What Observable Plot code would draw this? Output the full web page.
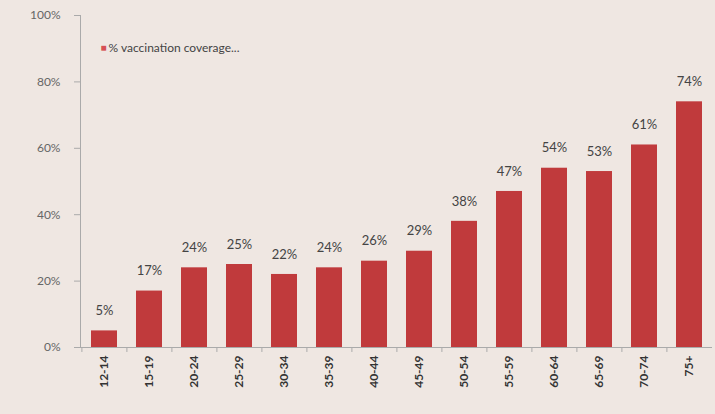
<!DOCTYPE html>
<html>
<head>
<meta charset="utf-8">
<script src="https://cdn.jsdelivr.net/npm/d3@7"></script>
<script src="https://cdn.jsdelivr.net/npm/@observablehq/plot@0.6"></script>
<style>
  html, body { margin: 0; padding: 0; background: #efe7e2; }
  #chart { width: 715px; height: 414px; overflow: hidden; }
</style>
</head>
<body>
<div id="chart"></div>
<script>
const ageGroups = ["12-14","15-19","20-24","25-29","30-34","35-39","40-44","45-49","50-54","55-59","60-64","65-69","70-74","75+"];
const coverage = [5, 17, 24, 25, 22, 24, 26, 29, 38, 47, 54, 53, 61, 74];
const yTicks = [0, 0.2, 0.4, 0.6, 0.8, 1.0];
const seriesName = "% vaccination coverage...";

const data = ageGroups.map((a, i) => ({age: a, value: coverage[i] / 100}));

const font = "Lato, 'Open Sans', sans-serif";

const chart = Plot.plot({
  width: 715,
  height: 414,
  marginLeft: 80,
  marginRight: 3,
  marginTop: 15,
  marginBottom: 67,
  style: {background: "#efe7e2", fontFamily: font},
  x: {domain: ageGroups, paddingInner: 0.43, paddingOuter: 0.2, axis: null},
  y: {domain: [0, 1], axis: null},
  marks: [
    Plot.axisY({ticks: yTicks, tickFormat: d3.format(".0%"), tickSize: 6, fontSize: 12, color: "#666", stroke: "#aaa", tickPadding: 14, label: null}),
    Plot.frame({anchor: "left", stroke: "#aaa"}),
    Plot.barY(data, {x: "age", y: "value", fill: "#c03a3c"}),
    Plot.ruleY([0], {stroke: "#aaa"}),
    Plot.ruleX(ageGroups, {x: d => d, dx: -22.6, y1: 0, y2: -0.015, stroke: "#aaa"}),
    Plot.text(data, {x: "age", y: "value", text: d => Math.round(d.value * 100) + "%", dy: -20, fontSize: 13, fill: "#444"}),
    Plot.text(ageGroups, {x: d => d, y: 0, text: d => d, rotate: -90, textAnchor: "end", dy: 8, fontSize: 12, fontWeight: "bold", fill: "#333"}),
    Plot.text([seriesName], {frameAnchor: "top-left", dx: 20, dy: 28, text: () => "■", fill: "#d65055", fontSize: 10}),
    Plot.text([seriesName], {frameAnchor: "top-left", dx: 28, dy: 28, text: d => d, textAnchor: "start", fill: "#444", fontSize: 12})
  ]
});
document.getElementById("chart").appendChild(chart);
</script>
</body>
</html>
